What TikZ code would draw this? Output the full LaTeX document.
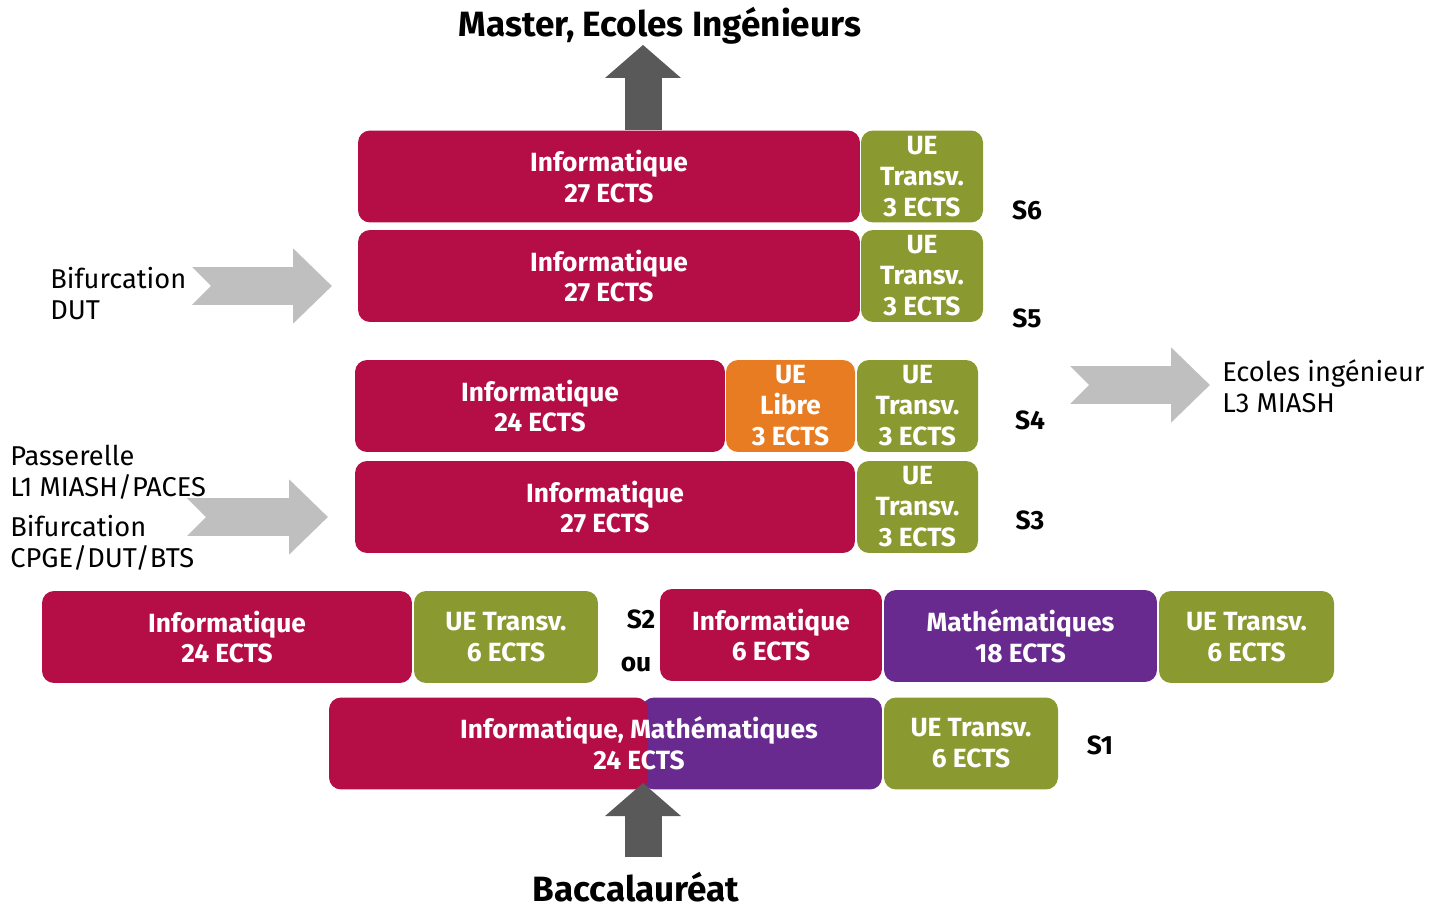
\documentclass[tikz,border=0pt]{standalone}
\usepackage{fontspec}
\setmainfont{Fira Sans}
\usetikzlibrary{arrows.meta}

\definecolor{uered}{RGB}{181,13,69}
\definecolor{uegreen}{RGB}{138,154,48}
\definecolor{ueorange}{RGB}{232,124,34}
\definecolor{uepurple}{RGB}{104,42,142}
\definecolor{arrdark}{RGB}{89,89,89}
\definecolor{arrlight}{RGB}{191,191,191}

\tikzset{
  uetext/.style={inner sep=0pt, text=white, align=center, font=\fontsize{15}{17.6}\selectfont\bfseries},
  ue/.style={uetext, rounded corners=0.24cm, minimum height=1.84cm},
  info/.style={ue, fill=uered},
  transv/.style={ue, fill=uegreen},
  libre/.style={ue, fill=ueorange},
  maths/.style={ue, fill=uepurple},
  sem/.style={inner sep=0pt, font=\fontsize{15}{18}\selectfont\bfseries},
  side/.style={align=left, anchor=west, inner sep=0pt, font=\fontsize{15.5}{17.6}\selectfont},
  bigtitle/.style={inner sep=0pt, font=\fontsize{20}{24}\selectfont\bfseries},
  darkarr/.style={arrdark, line width=0.74cm, -{Triangle[width=1.48cm,length=0.66cm]}},
  greyarr/.style={arrlight, line width=0.76cm, {Triangle Cap[reversed]}-{Triangle[width=1.46cm,length=0.78cm]}},
}

\begin{document}
\begin{tikzpicture}[x=0.02cm, y=-0.02cm]
  \useasboundingbox (0,0) rectangle (1435,908);

  % Titles
  \node[bigtitle] (master) at (660,26) {Master, Ecoles Ingénieurs};
  \node[bigtitle] (bac) at (636,887) {Baccalauréat};

  % S6
  \node[info, minimum width=10.04cm] (info6) at (609,176.5) {Informatique\\27 ECTS};
  \node[transv, minimum width=2.44cm] (tr6) at (922,176.5) {UE\\Transv.\\3 ECTS};
  \node[sem] (s6) at (1027,210) {S6};

  % S5
  \node[info, minimum width=10.04cm] (info5) at (609,276) {Informatique\\27 ECTS};
  \node[transv, minimum width=2.44cm] (tr5) at (922,276) {UE\\Transv.\\3 ECTS};
  \node[sem] (s5) at (1027,318) {S5};

  % S4
  \node[info, minimum width=7.4cm] (info4) at (540,406) {Informatique\\24 ECTS};
  \node[libre, minimum width=2.58cm] (libre4) at (790.5,406) {UE\\Libre\\3 ECTS};
  \node[transv, minimum width=2.42cm] (tr4) at (917.5,406) {UE\\Transv.\\3 ECTS};
  \node[sem] (s4) at (1030,420) {S4};

  % S3
  \node[info, minimum width=10cm] (info3) at (605,507) {Informatique\\27 ECTS};
  \node[transv, minimum width=2.42cm] (tr3) at (917.5,507) {UE\\Transv.\\3 ECTS};
  \node[sem] (s3) at (1030,520) {S3};

  % S2, two choices
  \node[info, minimum width=7.4cm] (info2a) at (227,637) {Informatique\\24 ECTS};
  \node[transv, minimum width=3.68cm] (tr2a) at (506,637) {UE Transv.\\6 ECTS};
  \node[sem] (s2) at (641,619) {S2};
  \node[sem] (ou) at (636,664) {ou};
  \node[info, minimum width=4.44cm] (info2b) at (771,635) {Informatique\\6 ECTS};
  \node[maths, minimum width=5.46cm] (math2b) at (1020.5,636) {Mathématiques\\18 ECTS};
  \node[transv, minimum width=3.5cm] (tr2b) at (1246.5,637) {UE Transv.\\6 ECTS};

  % S1
  \node[maths, minimum width=4.8cm] (math1) at (762,743.5) {};
  \node[info, minimum width=6.38cm] (info1) at (488.5,743.5) {};
  \node[uetext] (s1lbl) at (639,743.5) {Informatique, Mathématiques\\24 ECTS};
  \node[transv, minimum width=3.48cm] (tr1) at (971,743.5) {UE Transv.\\6 ECTS};
  \node[sem] (s1) at (1100,745) {S1};

  % Side texts
  \node[side] (bifdut) at (50,294) {Bifurcation\\DUT};
  \node[side] (passer) at (10,472) {Passerelle\\L1 MIASH/PACES};
  \node[side] (bifcpge) at (10,543) {Bifurcation\\CPGE/DUT/BTS};
  \node[side] (ecoles) at (1222,386) {Ecoles ingénieur\\L3 MIASH};

  % Dark arrows in and out
  \coordinate (topfoot) at (643,130);
  \draw[darkarr] (topfoot) -- (topfoot |- master.south);
  \coordinate (bacfoot) at (643,857);
  \coordinate (s1join) at (643,783);
  \draw[darkarr] (bacfoot) -- (s1join);

  % Grey arrows
  \coordinate (g1) at (192,286);
  \draw[greyarr] (g1) -- (332,286);
  \coordinate (g2) at (187,517);
  \draw[greyarr] (g2) -- (328,517);
  \coordinate (g3) at (1070,385);
  \draw[greyarr] (g3) -- (1210,385);
\end{tikzpicture}
\end{document}
